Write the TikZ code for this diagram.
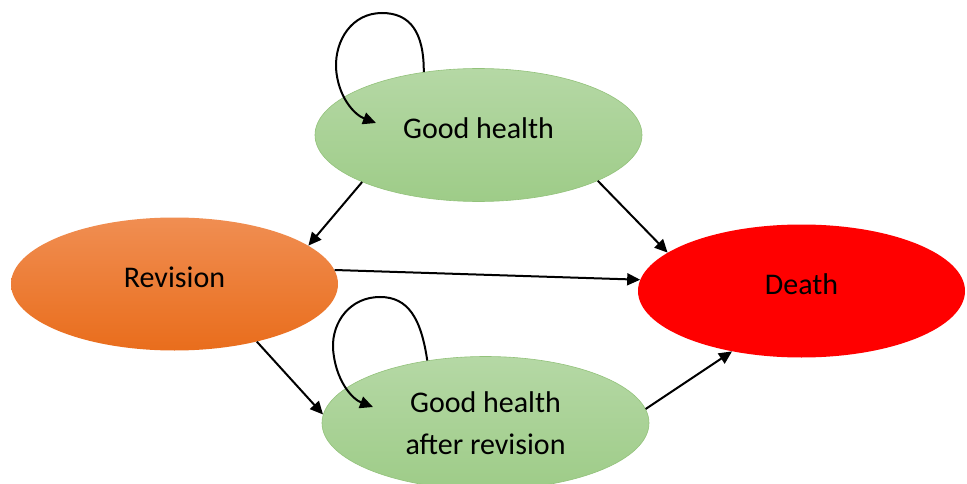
\documentclass[tikz,border=0pt]{standalone}
\usepackage{fontspec}
\setmainfont{Carlito}
\usepackage{tikz}
\usetikzlibrary{shapes.geometric,arrows.meta}

\definecolor{ghtop}{HTML}{B5D8A5}
\definecolor{ghbot}{HTML}{9ECC88}
\definecolor{ghedge}{HTML}{93C27B}
\definecolor{revtop}{HTML}{F08E52}
\definecolor{revbot}{HTML}{E96D1C}
\definecolor{deathred}{HTML}{FF0000}

\begin{document}
\begin{tikzpicture}[x=1pt, y=-1pt,
    state/.style={ellipse, minimum width=327pt, minimum height=133pt, inner sep=0pt,
        font=\fontsize{30}{42}\selectfont, align=center},
    healthstate/.style={state, draw=ghedge, line width=0.6pt, top color=ghtop, bottom color=ghbot},
    revstate/.style={state, top color=revtop, bottom color=revbot},
    deathstate/.style={state, fill=deathred},
    trans/.style={-{Triangle[length=13pt,width=12pt]}, line width=2pt}]
        \useasboundingbox (0,0) rectangle (967,484);

        % States
        \node[healthstate, text depth=14pt] (gh) at (478.5,135) {Good health};
        \node[revstate, text depth=14pt] (rev) at (174.5,284) {Revision};
        \node[deathstate, text depth=14pt] (death) at (801.5,291) {Death};
        \node[healthstate] (ghr) at (485.5,423) {Good health\\after revision};

        % Ends of the loops
        \coordinate (ghloop) at (376,123);
        \coordinate (ghrloop) at (373,407);

        % Staying in the same state
        \draw[trans] (gh.131) .. controls (424,32) and (410,13) .. (382,13)
            .. controls (352,13) and (335,40) .. (336,68)
            .. controls (338,98) and (355,115) .. (ghloop);
        \draw[trans] (ghr.133) .. controls (421,318) and (408,297) .. (380,297)
            .. controls (350,297) and (332,322) .. (333,348)
            .. controls (335,380) and (352,399) .. (ghrloop);

        % Transitions
        \draw[trans] (gh.202) -- (rev.16);
        \draw[trans] (gh.-21) -- (death.164);
        \draw[trans] (rev.5) -- (death.176);
        \draw[trans] (rev.-35) -- (ghr.177);
        \draw[trans] (ghr.5) -- (death.221);

    \end{tikzpicture}
\end{document}
